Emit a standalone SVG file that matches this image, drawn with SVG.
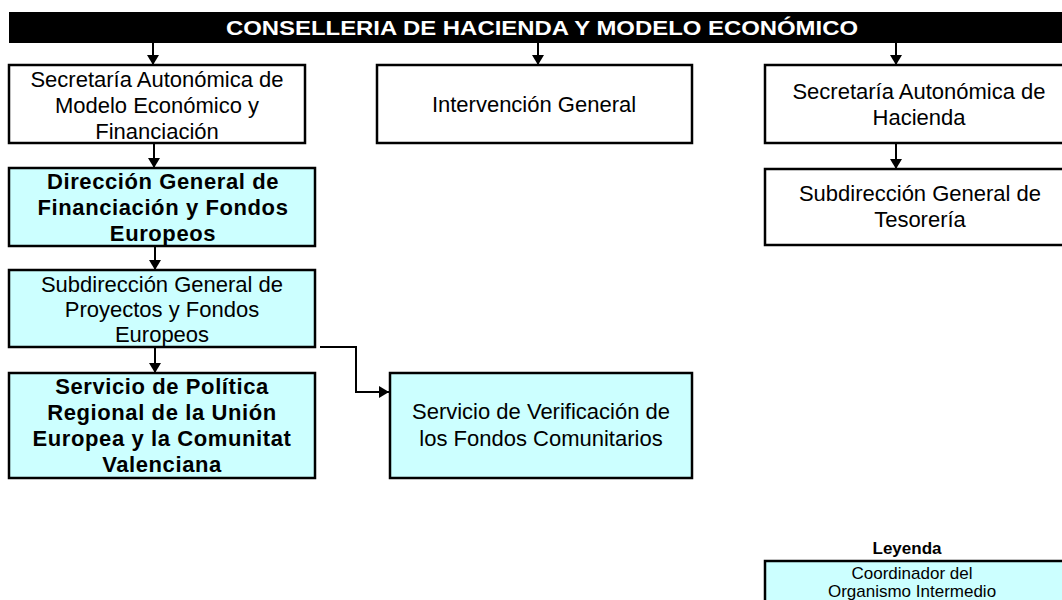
<svg xmlns="http://www.w3.org/2000/svg" width="1062" height="600" viewBox="0 0 1062 600">
<defs>
<marker id="ah" viewBox="0 0 10 12" refX="10" refY="6" markerWidth="10" markerHeight="12" markerUnits="userSpaceOnUse" orient="auto">
<path d="M0,0 L10,6 L0,12 z" fill="#000"/>
</marker>
</defs>
<style>
.box{fill:#fff;stroke:#000;stroke-width:2.5}
.cy{fill:#ccffff;stroke:#000;stroke-width:2.5}
.t{font-family:"Liberation Sans",Arial,sans-serif;font-size:22px;fill:#000;text-anchor:middle}
.b{font-weight:bold;font-size:22px;letter-spacing:0.6px}
.c{fill:none;stroke:#000;stroke-width:2;marker-end:url(#ah)}
.h{font-family:"Liberation Sans",Arial,sans-serif;font-size:21px;font-weight:bold;fill:#fff;text-anchor:middle}
.lg{font-family:"Liberation Sans",Arial,sans-serif;font-size:17px;fill:#000;text-anchor:middle}
.lb{font-weight:bold}
</style>
<rect width="1062" height="600" fill="#fff"/>
<g id="header">
<rect x="9" y="12" width="1060" height="31" fill="#000"/>
<text class="h" x="542" y="35" textLength="632" lengthAdjust="spacingAndGlyphs">CONSELLERIA DE HACIENDA Y MODELO ECONÓMICO</text>
</g>
<g id="connectors">
<line class="c" x1="153" y1="43" x2="153" y2="65"/>
<line class="c" x1="538" y1="43" x2="538" y2="65"/>
<line class="c" x1="896" y1="43" x2="896" y2="65"/>
<line class="c" x1="154" y1="144" x2="154" y2="168"/>
<line class="c" x1="896" y1="144" x2="896" y2="169"/>
<line class="c" x1="155" y1="247" x2="155" y2="270"/>
<line class="c" x1="155" y1="348" x2="155" y2="373"/>
<polyline class="c" points="320,347 356,347 356,392 389,392"/>
</g>
<g id="n1">
<rect class="box" x="9" y="65" width="296" height="78"/>
<text class="t" x="157" y="87">Secretaría Autonómica de</text>
<text class="t" x="157" y="113">Modelo Económico y</text>
<text class="t" x="157" y="139">Financiación</text>
</g>
<g id="n2">
<rect class="box" x="377" y="65" width="315" height="78"/>
<text class="t" x="534" y="112">Intervención General</text>
</g>
<g id="n3">
<rect class="box" x="765" y="65" width="310" height="78"/>
<text class="t" x="919" y="99">Secretaría Autonómica de</text>
<text class="t" x="919" y="125">Hacienda</text>
</g>
<g id="n4">
<rect class="cy" x="9" y="168" width="306" height="78"/>
<text class="t b" x="163" y="189">Dirección General de</text>
<text class="t b" x="163" y="215">Financiación y Fondos</text>
<text class="t b" x="163" y="241">Europeos</text>
</g>
<g id="n5">
<rect class="box" x="765" y="169" width="310" height="76"/>
<text class="t" x="920" y="201">Subdirección General de</text>
<text class="t" x="920" y="227">Tesorería</text>
</g>
<g id="n6">
<rect class="cy" x="9" y="270" width="306" height="77"/>
<text class="t" x="162" y="292">Subdirección General de</text>
<text class="t" x="162" y="317">Proyectos y Fondos</text>
<text class="t" x="162" y="342">Europeos</text>
</g>
<g id="n7">
<rect class="cy" x="9" y="373" width="306" height="105"/>
<text class="t b" x="162" y="394">Servicio de Política</text>
<text class="t b" x="162" y="420">Regional de la Unión</text>
<text class="t b" x="162" y="446">Europea y la Comunitat</text>
<text class="t b" x="162" y="472">Valenciana</text>
</g>
<g id="n8">
<rect class="cy" x="390" y="373" width="302" height="105"/>
<text class="t" x="541" y="419">Servicio de Verificación de</text>
<text class="t" x="541" y="446">los Fondos Comunitarios</text>
</g>
<g id="legend">
<text class="lg lb" x="907" y="554">Leyenda</text>
<rect class="cy" x="765" y="561" width="310" height="50"/>
<text class="lg" x="912" y="579">Coordinador del</text>
<text class="lg" x="912" y="597">Organismo Intermedio</text>
</g>
</svg>
